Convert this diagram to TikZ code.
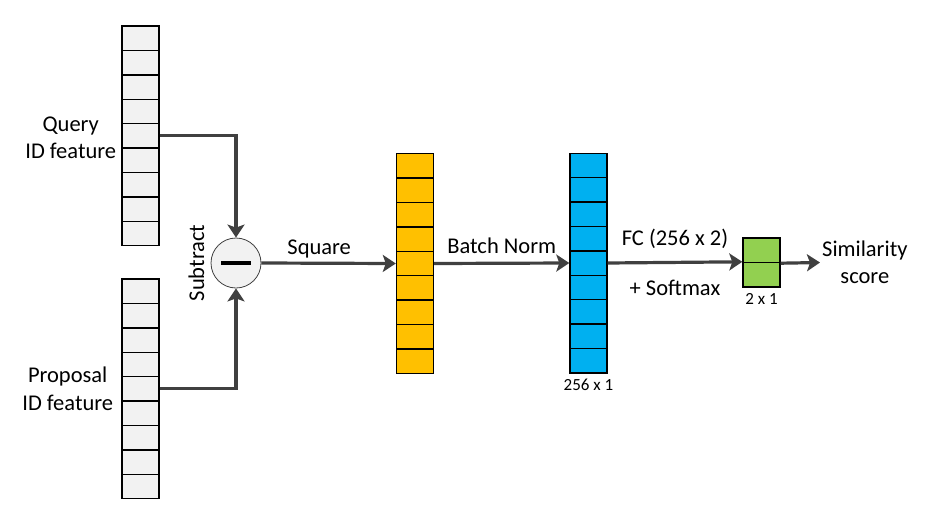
\documentclass[tikz,border=0pt]{standalone}
\usepackage{fontspec}
\setmainfont{Carlito}
\usetikzlibrary{arrows.meta, positioning}
\definecolor{cellgray}{HTML}{F2F2F2}
\definecolor{sqyellow}{HTML}{FFC000}
\definecolor{bnblue}{HTML}{00B0F0}
\definecolor{fcgreen}{HTML}{92D050}
\definecolor{arrowgray}{HTML}{404040}

\begin{document}
\begin{tikzpicture}[x=1pt, y=-1pt, auto, >={Stealth[length=13pt,width=17pt,inset=3pt]}]
\tikzstyle{cell}=[draw=black, line width=1.4pt, minimum width=37pt, minimum height=24.4pt, inner sep=0pt]
\tikzstyle{lbl}=[font=\fontsize{22.5}{27.5}\selectfont, align=center]
\tikzstyle{dim}=[font=\fontsize{17}{20}\selectfont]
\tikzstyle{flow}=[->, line width=3.2pt, draw=arrowgray]
\useasboundingbox (0,0) rectangle (927,517);

\foreach \i in {0,...,8} {
  \node[cell, fill=cellgray] (q\i) at (140.5, 38.2+24.4*\i) {};
  \node[cell, fill=cellgray] (p\i) at (140.5, 291.2+24.4*\i) {};
  \node[cell, fill=sqyellow] (y\i) at (415, 165.9+24.4*\i) {};
  \node[cell, fill=bnblue] (b\i) at (588.5, 165.4+24.4*\i) {};
}
\node[cell, fill=fcgreen, minimum height=24.5pt] (g0) at (761.5, 250.25) {};
\node[cell, fill=fcgreen, minimum height=24.5pt] (g1) at (761.5, 274.75) {};
\node[circle, draw=arrowgray, line width=0.8pt, fill=cellgray, minimum size=50pt, inner sep=0pt] (sub) at (236, 263) {\rule{30pt}{4pt}};

\node[lbl, inner sep=2pt, left=3pt of q4, yshift=-2pt] (qlab) {Query\\ID feature};
\node[lbl, inner sep=2pt, left=6pt of p4] (plab) {Proposal\\ID feature};
\node[lbl, inner sep=2pt, rotate=90, anchor=south] (sublab) at ([xshift=-4pt]sub.west) {Subtract};
\node[lbl, inner sep=2pt, anchor=west] (score) at (820, 262.5) {Similarity\\score};
\node[dim, below=0pt of b8, yshift=-2pt] (bdim) {256 x 1};
\node[dim, below=0pt of g1, yshift=-2.5pt] (gdim) {2 x 1};

\draw[flow] (q4.east) -| (sub.north);
\draw[flow] (p4.east) -| (sub.south);
\path[every node/.style={lbl}]
   (sub.east) edge[flow] node[pos=0.43] (sqlab) {Square} (y4.west)
   (y4.east) edge[flow] node[yshift=4.5pt] (bnlab) {Batch Norm} (b4.west)
   (b4.east) edge[flow] node[yshift=9pt] (fclab) {FC (256 x 2)}
                  node[swap, yshift=-13pt] (smlab) {+ Softmax} (g1.north west)
   (g0.south east) edge[flow] (score.west)
   ;
\end{tikzpicture}
\end{document}
